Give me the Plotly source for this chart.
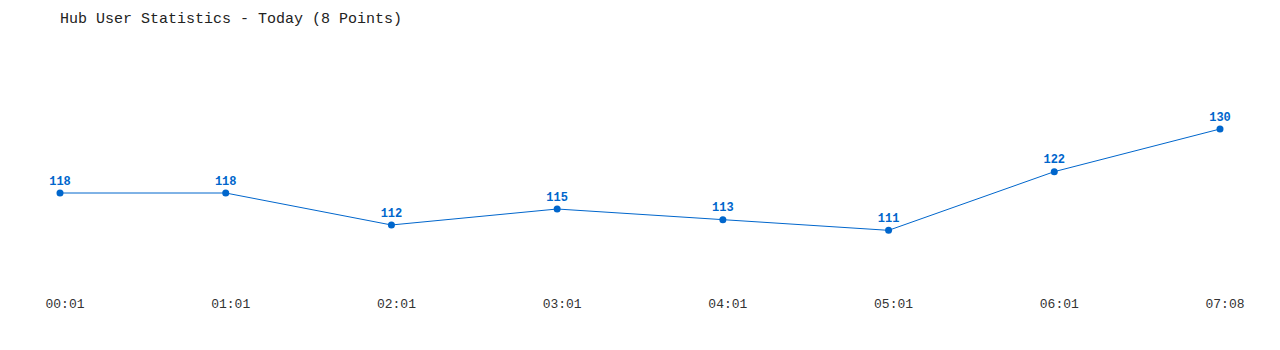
import plotly.graph_objects as go

times = ["00:01", "01:01", "02:01", "03:01", "04:01", "05:01", "06:01", "07:08"]
users = [118, 118, 112, 115, 113, 111, 122, 130]
title_text = "Hub User Statistics - Today (8 Points)"

color = "#0066cc"
mono = "Liberation Mono, DejaVu Sans Mono, monospace"

xs = list(range(len(times)))

fig = go.Figure(go.Scatter(
    x=xs, y=users,
    mode="lines+markers+text",
    line=dict(color=color, width=1),
    marker=dict(color=color, size=7),
    text=[str(v) for v in users],
    textposition="top center",
    textfont=dict(family=mono, size=12, color=color, weight="bold"),
    cliponaxis=False,
    hoverinfo="skip",
))

fig.update_layout(
    width=1280, height=350,
    margin=dict(l=0, r=0, t=60, b=60),
    paper_bgcolor="white", plot_bgcolor="white",
    showlegend=False,
    title=dict(text=title_text, x=60/1280, xanchor="left", y=1-18/350, yanchor="middle",
               font=dict(family=mono, size=15, color="#222222")),
    xaxis=dict(range=[-60/165.71, 7 + 60/165.71], tickmode="array", tickvals=xs, ticktext=times,
               showgrid=False, zeroline=False, showline=False, ticks="",
               tickfont=dict(family=mono, size=13, color="#333333"),
               ticklabelshift=5, ticklabelstandoff=4),
    yaxis=dict(range=[99.81, 142.94], visible=False, showgrid=False, zeroline=False),
)

fig.write_html("out.html")
